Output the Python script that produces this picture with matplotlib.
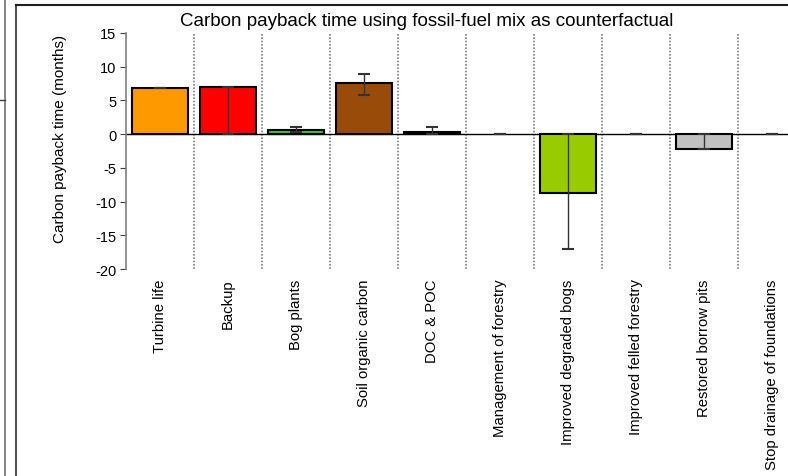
import matplotlib
matplotlib.use("Agg")
import matplotlib.pyplot as plt
from matplotlib.lines import Line2D
import numpy as np

categories = ["Turbine life", "Backup", "Bog plants", "Soil organic carbon", "DOC & POC",
              "Management of forestry", "Improved degraded bogs", "Improved felled forestry",
              "Restored borrow pits", "Stop drainage of foundations"]
values = [6.85, 7.05, 0.6, 7.6, 0.3, 0.0, -8.75, 0.0, -2.15, 0.0]
err_low = [6.85, 0.0, 0.35, 5.8, 0.0, 0.0, -17.1, 0.0, -2.15, 0.0]
err_high = [6.85, 7.05, 1.1, 8.9, 1.0, 0.0, 0.0, 0.0, 0.0, 0.0]
colors = ["#FF9900", "#FF0000", "#33CC33", "#994C0A", "#000000", "#FFFFFF",
          "#99CC00", "#FFFFFF", "#C0C0C0", "#FFFFFF"]
yticks = [15, 10, 5, 0, -5, -10, -15, -20]
title = "Carbon payback time using fossil-fuel mix as counterfactual"
ylabel = "Carbon payback time (months)"

plt.rcParams['font.family'] = ['Liberation Sans', 'DejaVu Sans']
plt.rcParams['axes.unicode_minus'] = False

W, H = 788, 477
fig = plt.figure(figsize=(W / 100, H / 100), dpi=100)

def px_line(x0, y0, x1, y1, color, lw):
    fig.add_artist(Line2D([x0 / W, x1 / W], [1 - y0 / H, 1 - y1 / H],
                          transform=fig.transFigure, color=color, lw=lw))
px_line(4.5, 0, 4.5, H, "#707070", 1.2)
px_line(0, 101, 4.5, 101, "#404040", 1.0)
px_line(15.5, 6, 15.5, H, "#505050", 1.5)
px_line(15.5, 6, W, 6, "#202020", 1.5)

x_left, x_right = 126, 806
y_top, y_bot = 34, 270
ax = fig.add_axes([x_left / W, 1 - y_bot / H, (x_right - x_left) / W, (y_bot - y_top) / H])
ax.set_xlim(-0.5, 9.5)
ax.set_ylim(-20, 15)

x = np.arange(len(categories))
vals = np.array(values)
nz = vals != 0
ax.bar(x[nz], vals[nz], width=0.81, color=[c for c, k in zip(colors, nz) if k],
       edgecolor="black", linewidth=1.5, zorder=3)
lo = vals - np.array(err_low)
hi = np.array(err_high) - vals
ax.errorbar(x, vals, yerr=[lo, hi], fmt="none", ecolor="#333333", elinewidth=1.0,
            capsize=4, capthick=1.5, zorder=4)

for i in range(len(categories) - 1):
    ax.axvline(i + 0.5, color="#808080", lw=1.2, ls=(0, (1, 1)), zorder=1)
ax.axhline(0, color="black", lw=1.0, zorder=2, clip_on=False)

for s in ["top", "right", "bottom"]:
    ax.spines[s].set_visible(False)
ax.spines["left"].set_color("#808080")
ax.spines["left"].set_linewidth(1.2)
ax.set_yticks(yticks)
ax.tick_params(axis="y", direction="out", length=4, color="#404040", labelsize=10.5, pad=3)
ax.set_xticks(x)
ax.set_xticklabels([])
ax.tick_params(axis="x", length=0)

for i, c in enumerate(categories):
    ax.text(i, -21.4, c, rotation=90, ha="center", va="top", fontsize=10.7)

ax.set_ylabel(ylabel, fontsize=11)
ax.yaxis.set_label_coords(-(126 - 67) / (x_right - x_left), (270 - 139) / (y_bot - y_top))
fig.text(427 / W, 1 - 21 / H, title, ha="center", va="center", fontsize=13.5)

fig.savefig("out.png", dpi=100)
